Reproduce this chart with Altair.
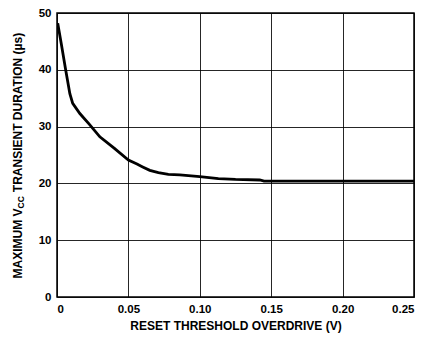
import altair as alt
import pandas as pd

overdrive = [0.0005, 0.003, 0.006, 0.009, 0.011, 0.016, 0.023, 0.030, 0.040, 0.050,
             0.056, 0.060, 0.065, 0.071, 0.078, 0.086, 0.100, 0.113, 0.125, 0.142,
             0.145, 0.20, 0.25]
duration = [48.2, 44.6, 40.1, 35.8, 34.1, 32.3, 30.3, 28.2, 26.2, 24.1,
            23.4, 22.9, 22.3, 21.9, 21.6, 21.5, 21.2, 20.85, 20.7, 20.6,
            20.4, 20.4, 20.4]

x_ticks = [0, 0.05, 0.10, 0.15, 0.20, 0.25]
y_ticks = [0, 10, 20, 30, 40, 50]

x_title = "RESET THRESHOLD OVERDRIVE (V)"
y_title_parts = ["MAXIMUM V", "CC", "TRANSIENT DURATION (µs)"]

df = pd.DataFrame({"x": overdrive, "y": duration})

FONT = "Liberation Sans"
W, H = 357, 284

line = alt.Chart(df).mark_line(color="black", strokeWidth=2.8, clip=True).encode(
    x=alt.X("x:Q",
            scale=alt.Scale(domain=[0, 0.25], nice=False, zero=True),
            axis=alt.Axis(values=x_ticks, title=x_title,
                          labelExpr="datum.value == 0 ? '0' : format(datum.value, '.2f')",
                          grid=True, gridColor="black", gridWidth=1, gridOpacity=0.85,
                          ticks=False, domain=False, labelPadding=6,
                          labelFont=FONT, labelFontWeight="bold", labelFontSize=11.5,
                          labelColor="black",
                          titleFont=FONT, titleFontWeight="bold", titleFontSize=12,
                          titleColor="black", titlePadding=6)),
    y=alt.Y("y:Q",
            scale=alt.Scale(domain=[0, 50], nice=False),
            axis=alt.Axis(values=y_ticks, title=None,
                          grid=True, gridColor="black", gridWidth=1, gridOpacity=0.85,
                          ticks=False, domain=False, labelPadding=6,
                          labelFont=FONT, labelFontWeight="bold", labelFontSize=11.5,
                          labelColor="black")),
)

# y-axis title with subscript, built from rotated text pieces
main_fs, sub_fs = 12, 8.5
w1 = 5.833 * main_fs
w2 = 1.444 * sub_fs
gap = 4.0
w3 = 13.388 * main_fs
total = w1 + w2 + gap + w3
y_start = H / 2 + total / 2
x_title_pos = -38.8

def title_piece(txt, y_pos, x_pos, fs):
    return alt.Chart(pd.DataFrame({"t": [txt]})).mark_text(
        angle=270, align="left", baseline="middle", font=FONT,
        fontWeight="bold", fontSize=fs, color="black",
    ).encode(text="t:N", x=alt.value(x_pos), y=alt.value(y_pos))

t1 = title_piece(y_title_parts[0], y_start, x_title_pos, main_fs)
t2 = title_piece(y_title_parts[1], y_start - w1, x_title_pos + 3, sub_fs)
t3 = title_piece(y_title_parts[2], y_start - w1 - w2 - gap, x_title_pos, main_fs)

chart = alt.layer(line, t1, t2, t3).properties(
    width=W, height=H,
    autosize=alt.AutoSizeParams(type="none"),
    padding={"left": 49, "top": 5, "right": 14, "bottom": 40},
).configure_view(stroke="black", strokeWidth=1.5)

chart.save("out.html", embed_options={"renderer": "svg", "actions": False})
